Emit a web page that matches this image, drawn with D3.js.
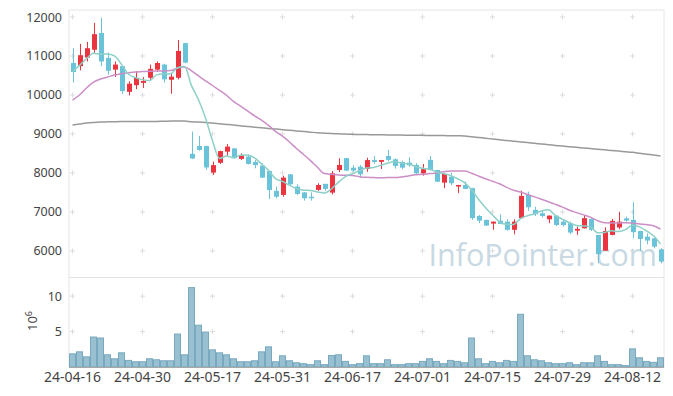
<!DOCTYPE html>
<html>
<head>
<meta charset="utf-8">
<script src="https://cdn.jsdelivr.net/npm/d3@7"></script>
<style>
  body { margin: 0; background: #fff; }
  svg { display: block; font-family: "Noto Sans", sans-serif; }
</style>
</head>
<body>
<svg id="chart"></svg>
<script>
// trading days 2024-04-16 .. 2024-08-19
let dates = [
  '24-04-16','24-04-17','24-04-18','24-04-19','24-04-22','24-04-23','24-04-24','24-04-25','24-04-26','24-04-29',
  '24-04-30','24-05-02','24-05-03','24-05-07','24-05-08','24-05-09','24-05-10','24-05-13','24-05-14','24-05-16',
  '24-05-17','24-05-20','24-05-21','24-05-22','24-05-23','24-05-24','24-05-27','24-05-28','24-05-29','24-05-30',
  '24-05-31','24-06-03','24-06-04','24-06-05','24-06-07','24-06-10','24-06-11','24-06-12','24-06-13','24-06-14',
  '24-06-17','24-06-18','24-06-19','24-06-20','24-06-21','24-06-24','24-06-25','24-06-26','24-06-27','24-06-28',
  '24-07-01','24-07-02','24-07-03','24-07-04','24-07-05','24-07-08','24-07-09','24-07-10','24-07-11','24-07-12',
  '24-07-15','24-07-16','24-07-17','24-07-18','24-07-19','24-07-22','24-07-23','24-07-24','24-07-25','24-07-26',
  '24-07-29','24-07-30','24-07-31','24-08-01','24-08-02','24-08-05','24-08-06','24-08-07','24-08-08','24-08-09',
  '24-08-12','24-08-13','24-08-14','24-08-16','24-08-19'
];

let opens = [
  10820,10740,10960,11160,11590,10950,10650,10740,10080,10250,
  10310,10440,10650,10780,10390,10440,11330,8490,8690,8690,
  8010,8260,8545,8630,8360,8420,8280,8190,8050,7540,
  7435,7965,7650,7500,7390,7565,7720,7495,8075,8380,
  8135,8160,8100,8330,8285,8435,8350,8280,8265,8205,
  7990,8335,8075,7750,7905,7650,7690,7610,6895,6795,
  6700,6775,6750,6540,6840,7435,7050,6965,6810,6905,
  6750,6710,6520,6580,6820,6410,6005,6410,6600,6835,
  6795,6510,6365,6325,6040
];
let highs = [
  11200,11310,11360,11850,11980,11090,10860,10750,10350,10610,
  10460,10780,10860,10800,10560,11410,11340,9060,8950,8700,
  8290,8570,8740,8640,8500,8440,8330,8250,8060,7650,
  7930,7970,7710,7510,7500,7735,7720,8050,8375,8380,
  8200,8200,8390,8435,8335,8590,8375,8315,8400,8250,
  8230,8435,8080,7990,8005,7695,7775,7620,6920,6800,
  6755,6940,6810,6810,7545,7520,7135,7050,6910,6910,
  6810,6750,6620,6920,6840,6410,6605,6820,7005,6880,
  7250,6515,6450,6340,6070
];
let lows = [
  10320,10630,10860,11080,10740,10520,10460,10030,9990,10150,
  10180,10380,10590,10320,10030,10400,10810,8360,8570,8080,
  7950,8230,8440,8360,8330,8220,8120,7870,7330,7350,
  7390,7670,7430,7290,7290,7540,7540,7450,8020,8050,
  8030,7880,8030,8230,8100,8300,8110,8095,8160,7975,
  7930,8060,7770,7610,7690,7480,7580,6795,6710,6640,
  6540,6685,6520,6427,6830,7030,6895,6860,6710,6640,
  6620,6430,6410,6575,6510,5685,6000,6400,6555,6750,
  6325,6005,6170,6065,5685
];
let closes = [
  10590,11020,11200,11560,10860,10620,10780,10100,10290,10440,
  10360,10670,10820,10400,10470,11130,10830,8370,8590,8140,
  8200,8560,8675,8380,8460,8230,8200,7880,7560,7390,
  7880,7710,7460,7350,7350,7690,7590,7990,8205,8060,
  8060,7965,8330,8280,8330,8335,8180,8135,8195,7990,
  8095,8075,7775,7975,7735,7690,7590,6840,6775,6650,
  6750,6690,6540,6750,7410,7120,6940,6895,6905,6665,
  6665,6470,6565,6840,6540,5915,6510,6770,6750,6775,
  6480,6305,6265,6110,5725
];

// volume, millions of shares
let volumes = [
  1.86,2.14,1.44,4.23,4.09,1.72,1.16,2.0,0.93,0.74,
  0.74,1.16,1.02,0.88,0.88,4.65,1.72,11.2,5.9,4.93,
  2.42,2.0,1.72,1.16,0.74,0.74,0.88,2.14,2.84,0.74,
  1.58,0.88,0.6,0.47,0.33,0.88,0.33,1.63,1.72,0.79,
  0.33,0.47,1.58,0.47,0.47,1.02,0.33,0.33,0.47,0.47,
  0.79,1.16,0.79,0.47,0.93,0.79,0.6,4.09,1.16,0.47,
  0.79,0.6,0.93,0.79,7.44,1.58,1.02,0.88,0.6,0.47,
  0.47,0.6,0.33,0.6,0.6,1.58,0.79,0.33,0.33,0.19,
  2.56,1.3,0.79,0.65,1.3
];

let ma5 = [
  10600,10760,10930,11070,11046,11052,11004,10784,10530,10446,
  10394,10372,10516,10538,10544,10698,10730,10240,9878,9412,
  8826,8372,8433,8391,8455,8461,8389,8230,8066,7852,
  7782,7684,7600,7558,7550,7512,7488,7594,7765,7907,
  7981,8056,8124,8139,8193,8248,8291,8252,8235,8167,
  8119,8098,8026,7982,7931,7850,7753,7566,7326,7109,
  6921,6741,6681,6676,6828,6902,6952,7023,7054,6905,
  6814,6720,6654,6641,6616,6466,6474,6515,6497,6544,
  6657,6616,6515,6387,6177
];
let ma20 = [
  9870,10000,10180,10330,10410,10460,10510,10545,10570,10590,
  10600,10610,10615,10615,10625,10690,10720,10620,10490,10362,
  10243,10120,9993,9834,9714,9595,9466,9355,9218,9066,
  8942,8794,8626,8473,8317,8145,7983,7964,7945,7941,
  7934,7904,7887,7882,7876,7881,7880,7893,7924,7954,
  7965,7983,7999,8030,8050,8050,8050,7992,7921,7850,
  7785,7721,7631,7555,7509,7448,7386,7324,7260,7193,
  7122,7042,6981,6924,6865,6776,6722,6718,6717,6723,
  6710,6691,6677,6645,6561
];
let ma120 = [
  9230,9255,9280,9295,9305,9310,9315,9318,9318,9318,
  9320,9320,9322,9325,9330,9335,9330,9315,9305,9292,
  9280,9262,9245,9228,9208,9190,9175,9158,9142,9126,
  9110,9094,9078,9062,9046,9030,9020,9012,9004,8996,
  8990,8987,8984,8981,8978,8975,8972,8970,8968,8966,
  8964,8962,8960,8958,8955,8952,8948,8930,8910,8890,
  8870,8850,8832,8814,8796,8778,8760,8742,8724,8706,
  8688,8672,8656,8640,8624,8608,8592,8576,8560,8544,
  8528,8505,8482,8458,8435
];

let tickLabels = ['24-04-16','24-04-30','24-05-17','24-05-31','24-06-17','24-07-01','24-07-15','24-07-29','24-08-12'];
let priceTicks = [6000, 7000, 8000, 9000, 10000, 11000, 12000];
let volTicks = [5, 10];

let w = 673;
let h = 396;
let padL = 69, padR = 664, padT = 10, midY = 277, baseY = 367;

let upCol = '#ea3540';
let downCol = '#6ac3d9';

let svg = d3.select('#chart').attr('width', w).attr('height', h);

let x = d3.scaleBand().domain(dates).range([padL, padR]).padding(0);
let cx = d => x(d) + x.bandwidth() / 2;
let y = d3.scaleLinear().domain([5330, 12180]).range([midY, padT]);
let yv = d3.scaleLinear().domain([0, 12.7]).range([baseY, midY]);

// frame
svg.append('rect')
   .attr('x', padL).attr('y', padT)
   .attr('width', padR - padL).attr('height', baseY - padT)
   .attr('fill', 'none').attr('stroke', '#e6e6e6');
svg.append('line')
   .attr('x1', padL).attr('x2', padR)
   .attr('y1', midY + 0.5).attr('y2', midY + 0.5)
   .attr('stroke', '#e3e3e3');

// grid crosses
let crosses = [];
tickLabels.forEach(t => {
  priceTicks.forEach(p => crosses.push([cx(t), y(p)]));
  volTicks.forEach(v => crosses.push([cx(t), yv(v)]));
});
svg.append('g').selectAll('path')
   .data(crosses)
   .enter()
   .append('path')
   .attr('d', c => 'M' + (c[0] - 2.5) + ',' + c[1] + 'h5M' + c[0] + ',' + (c[1] - 2.5) + 'v5')
   .attr('stroke', '#dcdcdc')
   .attr('stroke-width', 1);

// watermark
svg.append('text')
   .attr('x', 657).attr('y', 266)
   .attr('text-anchor', 'end')
   .style('font-family', '"Open Sans", sans-serif')
   .style('font-size', '30.5px')
   .attr('fill', '#c8d9e3')
   .text('InfoPointer.com');

// candles
let idx = d3.range(dates.length);
let candles = svg.append('g');
candles.selectAll('line')
   .data(idx)
   .enter()
   .append('line')
   .attr('x1', i => Math.round(cx(dates[i])) + 0.5)
   .attr('x2', i => Math.round(cx(dates[i])) + 0.5)
   .attr('y1', i => y(highs[i]))
   .attr('y2', i => y(lows[i]))
   .attr('stroke', i => closes[i] >= opens[i] ? upCol : downCol)
   .attr('stroke-width', 1);
candles.selectAll('rect')
   .data(idx)
   .enter()
   .append('rect')
   .attr('x', i => Math.round(cx(dates[i])) - 2)
   .attr('width', 5)
   .attr('y', i => y(Math.max(opens[i], closes[i])))
   .attr('height', i => Math.max(1, Math.abs(y(opens[i]) - y(closes[i]))))
   .attr('fill', i => closes[i] >= opens[i] ? upCol : downCol);

// moving averages
let maLine = arr => d3.line()
  .x((v, i) => cx(dates[i]))
  .y(v => y(v))
  .curve(d3.curveMonotoneX)(arr);

svg.append('path').attr('d', maLine(ma120))
   .attr('fill', 'none').attr('stroke', '#999').attr('stroke-width', 1.5);
svg.append('path').attr('d', maLine(ma20))
   .attr('fill', 'none').attr('stroke', '#cc8ec6').attr('stroke-width', 1.5);
svg.append('path').attr('d', maLine(ma5))
   .attr('fill', 'none').attr('stroke', '#8dd0c7').attr('stroke-width', 1.5);

// volume bars
svg.append('g').selectAll('rect')
   .data(idx)
   .enter()
   .append('rect')
   .attr('x', i => x(dates[i]) + 0.5)
   .attr('width', x.bandwidth() - 1)
   .attr('y', i => yv(volumes[i]))
   .attr('height', i => baseY - yv(volumes[i]))
   .attr('fill', '#98c0d1')
   .attr('stroke', '#78a9be')
   .attr('stroke-width', 1);

// axes
svg.append('line')
   .attr('x1', padL).attr('x2', padR)
   .attr('y1', baseY + 0.5).attr('y2', baseY + 0.5)
   .attr('stroke', '#a8a8a8');

svg.append('g').selectAll('text')
   .data(tickLabels)
   .enter()
   .append('text')
   .attr('x', t => cx(t))
   .attr('y', 382)
   .attr('text-anchor', 'middle')
   .style('font-size', '14px')
   .attr('fill', '#444')
   .text(t => t);

svg.append('g').selectAll('text')
   .data(priceTicks)
   .enter()
   .append('text')
   .attr('x', 62)
   .attr('y', p => y(p) + 4.5)
   .attr('text-anchor', 'end')
   .style('font-size', '12.5px')
   .attr('fill', '#444')
   .text(p => p);

svg.append('g').selectAll('text')
   .data(volTicks)
   .enter()
   .append('text')
   .attr('x', 62)
   .attr('y', v => yv(v) + 4.5)
   .attr('text-anchor', 'end')
   .style('font-size', '12.5px')
   .attr('fill', '#444')
   .text(v => v);

let unit = svg.append('text')
   .attr('transform', 'translate(37,321) rotate(-90)')
   .attr('text-anchor', 'middle')
   .style('font-size', '13px')
   .attr('fill', '#444');
unit.append('tspan').text('10');
unit.append('tspan').attr('dy', -5).style('font-size', '9px').text('6');
</script>
</body>
</html>
